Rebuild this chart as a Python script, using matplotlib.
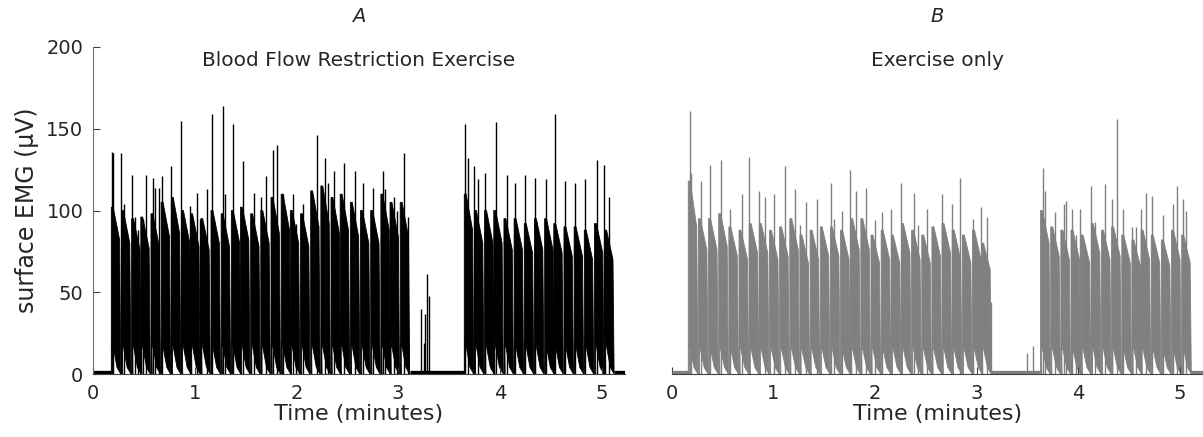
import matplotlib
matplotlib.use("Agg")
import matplotlib.pyplot as plt

# ---------------- data ----------------
xticks = [0, 1, 2, 3, 4, 5]
yticks = [0, 50, 100, 150, 200]

# Panel A: Blood Flow Restriction Exercise
A_onsets = [0.18, 0.28, 0.38, 0.47, 0.57, 0.67, 0.77, 0.87, 0.96, 1.06,
            1.16, 1.26, 1.36, 1.45, 1.55, 1.65, 1.75, 1.85, 1.94, 2.04,
            2.14, 2.24, 2.34, 2.43, 2.53, 2.63, 2.73, 2.83, 2.92, 3.02,
            3.65, 3.75, 3.85, 3.94, 4.04, 4.14, 4.24, 4.34, 4.44, 4.53,
            4.63, 4.73, 4.83, 4.93, 5.03]
A_top_start = [102, 100, 95, 96, 98, 105, 108, 100, 98, 95,
               100, 98, 100, 102, 98, 100, 108, 110, 100, 98,
               112, 115, 108, 110, 105, 100, 100, 110, 105, 105,
               110, 100, 100, 100, 95, 95, 92, 95, 95, 92,
               90, 90, 88, 92, 88]
A_top_end = [82, 80, 76, 77, 78, 84, 86, 80, 78, 76,
             80, 78, 80, 82, 78, 80, 86, 88, 80, 78,
             90, 92, 86, 88, 84, 80, 80, 88, 84, 84,
             88, 80, 80, 80, 76, 76, 74, 76, 76, 74,
             72, 72, 70, 74, 70]
A_low = 20
A_spike_t = [0.185, 0.20, 0.28, 0.30, 0.38, 0.41, 0.44, 0.49, 0.52, 0.59,
             0.61, 0.65, 0.68, 0.77, 0.87, 0.95, 1.02, 1.05, 1.12, 1.17,
             1.275, 1.30, 1.38, 1.47, 1.58, 1.65, 1.70, 1.77, 1.81, 1.87,
             1.97, 2.00, 2.06, 2.20, 2.28, 2.31, 2.37, 2.47, 2.58, 2.65,
             2.75, 2.85, 2.87, 2.96, 2.99, 3.06, 3.10,
             3.22, 3.25, 3.26, 3.28, 3.30,
             3.66, 3.69, 3.75, 3.78, 3.85, 3.96, 4.07, 4.15, 4.25, 4.35,
             4.45, 4.54, 4.64, 4.74, 4.84, 4.95, 5.02, 5.07]
A_spike_v = [136, 135, 135, 104, 122, 96, 88, 95, 122, 120,
             114, 114, 121, 127, 155, 103, 111, 95, 113, 159,
             164, 110, 153, 130, 111, 108, 121, 137, 140, 110,
             110, 92, 104, 146, 132, 117, 124, 129, 124, 117,
             114, 124, 113, 108, 100, 135, 96,
             40, 19, 37, 61, 48,
             153, 132, 127, 119, 123, 154, 122, 117, 122, 120,
             119, 159, 118, 117, 119, 131, 128, 108]
A_rest_start = [0.0, 3.12, 5.12]
A_rest_end = [0.18, 3.65, 5.23]
A_rest_level = 1.5

# Panel B: Exercise only
B_onsets = [0.16, 0.26, 0.36, 0.46, 0.56, 0.66, 0.76, 0.86, 0.96, 1.06,
            1.16, 1.26, 1.36, 1.46, 1.56, 1.66, 1.76, 1.86, 1.96, 2.06,
            2.16, 2.26, 2.36, 2.46, 2.56, 2.66, 2.76, 2.86, 2.96, 3.05,
            3.63, 3.73, 3.83, 3.93, 4.03, 4.13, 4.23, 4.33, 4.43, 4.53,
            4.62, 4.72, 4.82, 4.92, 5.02]
B_top_start = [118, 95, 95, 98, 90, 88, 92, 92, 88, 90,
               95, 85, 88, 90, 90, 88, 95, 95, 85, 88,
               85, 92, 88, 85, 90, 92, 88, 85, 88, 80,
               100, 90, 88, 88, 85, 92, 88, 90, 85, 82,
               88, 85, 82, 88, 85]
B_top_end = [90, 76, 76, 78, 72, 70, 74, 74, 70, 72,
             76, 68, 70, 72, 72, 70, 76, 76, 68, 70,
             68, 74, 70, 68, 72, 74, 70, 68, 70, 64,
             80, 72, 70, 70, 68, 74, 70, 72, 68, 66,
             70, 68, 66, 70, 68]
B_low = 18
B_spike_t = [0.177, 0.19, 0.29, 0.37, 0.48, 0.57, 0.69, 0.76, 0.86, 0.92,
             1.00, 1.11, 1.21, 1.26, 1.32, 1.43, 1.57, 1.60, 1.67, 1.75,
             1.81, 1.91, 2.00, 2.07, 2.16, 2.26, 2.38, 2.42, 2.51, 2.66,
             2.76, 2.84, 2.96, 3.04, 3.10, 3.14,
             3.50, 3.56,
             3.65, 3.67, 3.77, 3.86, 3.88, 3.94, 3.98, 4.02, 4.13, 4.17,
             4.26, 4.33, 4.38, 4.44, 4.53, 4.57, 4.62, 4.67, 4.73, 4.84,
             4.93, 4.97, 5.03, 5.06]
B_spike_v = [161, 123, 118, 128, 131, 101, 110, 133, 112, 108,
             110, 127, 113, 91, 105, 107, 117, 95, 100, 125,
             112, 114, 94, 99, 101, 117, 111, 91, 101, 110,
             104, 120, 95, 102, 96, 44,
             13, 17,
             126, 112, 99, 104, 106, 101, 85, 101, 115, 93,
             116, 107, 156, 101, 90, 90, 101, 111, 109, 97,
             104, 115, 107, 100]
B_rest_start = [0.0, 3.14, 5.10]
B_rest_end = [0.16, 3.63, 5.23]
B_rest_level = 1.5

# ---------------- styling ----------------
plt.rcParams['font.family'] = ['DejaVu Sans']
TXT = '#262626'
AX = '#404040'
XMAX = 5.23

fig = plt.figure(figsize=(12.03, 4.37), dpi=100)
axA = fig.add_axes([93 / 1203, 63 / 437, 532 / 1203, 327 / 437])
axB = fig.add_axes([672 / 1203, 63 / 437, 531 / 1203, 327 / 437])


def draw_panel(ax, onsets, top0, top1, low, width, spk_t, spk_v,
               rs, re, rl, color):
    for t0, a, b in zip(onsets, top0, top1):
        xs = [t0, t0, t0 + 0.2 * width, t0 + 0.88 * width, t0 + width,
              t0 + 0.6 * width, t0 + 0.1 * width, t0 + 0.012]
        ys = [0, a, a, b, 0, 4, low, 0]
        ax.fill(xs, ys, facecolor=color, edgecolor=color, lw=0.6,
                joinstyle='miter')
    ax.vlines(spk_t, 0, spk_v, color=color, lw=1.0)
    for s, e in zip(rs, re):
        ax.plot([s, e], [rl, rl], color=color, lw=2.4,
                solid_capstyle='butt')


draw_panel(axA, A_onsets, A_top_start, A_top_end, A_low, 0.093,
           A_spike_t, A_spike_v, A_rest_start, A_rest_end, A_rest_level,
           '#000000')
draw_panel(axB, B_onsets, B_top_start, B_top_end, B_low, 0.095,
           B_spike_t, B_spike_v, B_rest_start, B_rest_end, B_rest_level,
           '#808080')

for ax in (axA, axB):
    ax.set_xlim(0, XMAX)
    ax.set_ylim(0, 200)
    ax.set_xticks(xticks)
    ax.spines['top'].set_visible(False)
    ax.spines['right'].set_visible(False)
    ax.spines['bottom'].set_color(AX)
    ax.spines['left'].set_color('#707070')
    ax.spines['bottom'].set_linewidth(0.8)
    ax.spines['left'].set_linewidth(0.8)
    ax.tick_params(direction='in', length=5, width=0.8, color=AX,
                   labelcolor=TXT, labelsize=14, pad=7)
    ax.set_xlabel('Time (minutes)', fontsize=16, color=TXT, labelpad=1)
    ax.patch.set_alpha(0)

axA.set_yticks(yticks)
axA.set_ylabel('surface EMG (µV)', fontsize=17, color=TXT, labelpad=5)
axB.spines['left'].set_visible(False)
axB.set_yticks([])

axA.text(0.5, 1.092, 'A', transform=axA.transAxes, ha='center', va='center',
         fontsize=14, style='italic', color=TXT)
axA.text(0.5, 0.960, 'Blood Flow Restriction Exercise', transform=axA.transAxes,
         ha='center', va='center', fontsize=14.5, color=TXT)
axB.text(0.5, 1.092, 'B', transform=axB.transAxes, ha='center', va='center',
         fontsize=14, style='italic', color=TXT)
axB.text(0.5, 0.960, 'Exercise only', transform=axB.transAxes,
         ha='center', va='center', fontsize=14.5, color=TXT)

fig.savefig('out.png', dpi=100)
